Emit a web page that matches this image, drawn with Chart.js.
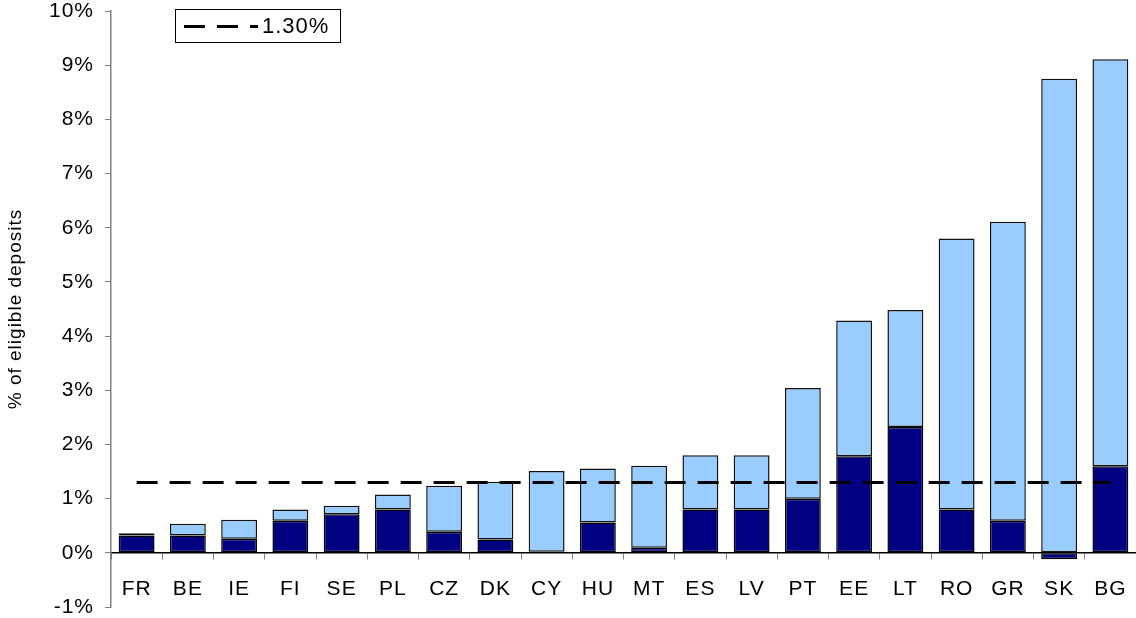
<!DOCTYPE html>
<html>
<head>
<meta charset="utf-8">
<script src="https://cdn.jsdelivr.net/npm/chart.js@4/dist/chart.umd.min.js"></script>
<style>
  html, body { margin: 0; padding: 0; background: #ffffff; }
  #wrap { width: 1136px; height: 618px; position: relative; }
</style>
</head>
<body>
<div id="wrap"><canvas id="c" width="1136" height="618"></canvas></div>
<script>
// ---- data ----
const categories = ['FR','BE','IE','FI','SE','PL','CZ','DK','CY','HU','MT','ES','LV','PT','EE','LT','RO','GR','SK','BG'];
// lower (dark navy) segment, % of eligible deposits
const lowerSegment = [0.32, 0.32, 0.26, 0.59, 0.71, 0.80, 0.39, 0.245, 0.02, 0.56, 0.095, 0.80, 0.80, 1.00, 1.78, 2.32, 0.80, 0.59, -0.12, 1.60];
// upper (light blue) segment, % of eligible deposits
const upperSegment = [0.04, 0.215, 0.35, 0.21, 0.16, 0.275, 0.85, 1.065, 1.49, 0.995, 1.51, 1.00, 1.00, 2.04, 2.51, 2.16, 5.00, 5.52, 8.75, 7.51];
// reference level
const referenceLevel = 1.30;
const referenceLabel = '1.30%';
const yMin = -1, yMax = 10, yStep = 1;
const yTitle = '% of eligible deposits';

const FONT = '"Liberation Sans", Arial, sans-serif';
const SPACING = '1px';

const spacingPlugin = {
  id: 'spacing',
  beforeUpdate(chart) { chart.ctx.letterSpacing = SPACING; },
  beforeDraw(chart) { chart.ctx.letterSpacing = SPACING; }
};

const legendBoxPlugin = {
  id: 'legendBox',
  afterDraw(chart) {
    const ctx = chart.ctx;
    ctx.save();
    ctx.letterSpacing = SPACING;
    ctx.strokeStyle = '#000000';
    ctx.lineWidth = 1;
    ctx.strokeRect(175.5, 9.5, 165, 33);
    ctx.beginPath();
    ctx.setLineDash([21, 12]);
    ctx.lineWidth = 3;
    ctx.moveTo(184, 26.5);
    ctx.lineTo(258, 26.5);
    ctx.stroke();
    ctx.setLineDash([]);
    ctx.fillStyle = '#000000';
    ctx.font = '22px ' + FONT;
    ctx.textBaseline = 'middle';
    ctx.textAlign = 'left';
    ctx.fillText(chart.data.datasets[2].label, 262, 27);
    ctx.restore();
  }
};

new Chart(document.getElementById('c'), {
  data: {
    labels: categories,
    datasets: [
      {
        type: 'bar', label: 'lower', data: lowerSegment,
        backgroundColor: '#000080', borderColor: '#000000', borderWidth: 1.5,
        borderSkipped: false, stack: 's', order: 2,
        categoryPercentage: 1.0, barPercentage: 0.70
      },
      {
        type: 'bar', label: 'upper', data: upperSegment,
        backgroundColor: '#99CCFF', borderColor: '#111111', borderWidth: 1.5,
        borderSkipped: false, stack: 's', order: 2,
        categoryPercentage: 1.0, barPercentage: 0.70
      },
      {
        type: 'line', label: referenceLabel, data: categories.map(() => referenceLevel),
        borderColor: '#000000', borderWidth: 3, borderDash: [21, 12],
        pointRadius: 0, fill: false, order: 0
      }
    ]
  },
  options: {
    responsive: false,
    animation: false,
    devicePixelRatio: 1,
    layout: { padding: { left: 0, right: 0, top: 11, bottom: 11 } },
    plugins: { legend: { display: false }, tooltip: { enabled: false } },
    scales: {
      x: {
        type: 'category',
        stacked: true,
        offset: true,
        position: { y: 0 },
        afterFit(scale) { scale.paddingLeft = 0; scale.paddingRight = 0; scale.paddingTop = 0; scale.paddingBottom = 0; },
        grid: { display: true, offset: true, drawOnChartArea: false, drawTicks: true, tickLength: 6, color: '#808080', lineWidth: 1 },
        border: { display: true, color: '#000000', width: 1.5 },
        ticks: { color: '#000000', font: { family: FONT, size: 21 }, padding: 18, maxRotation: 0, autoSkip: false }
      },
      y: {
        stacked: true,
        min: yMin, max: yMax,
        afterFit(scale) { scale.width = 111; scale.paddingTop = 0; scale.paddingBottom = 0; },
        grid: { display: true, drawOnChartArea: false, drawTicks: true, tickLength: 6, color: '#808080', lineWidth: 1 },
        border: { display: true, color: '#808080', width: 1.5 },
        ticks: {
          stepSize: yStep, padding: 11, color: '#000000',
          font: { family: FONT, size: 21, lineHeight: 1 },
          callback: (v) => v + '%'
        },
        title: { display: true, text: yTitle, color: '#000000', font: { family: FONT, size: 19, lineHeight: 1.2 }, padding: { top: 4, bottom: 0 } }
      }
    }
  },
  plugins: [spacingPlugin, legendBoxPlugin]
});
</script>
</body>
</html>
